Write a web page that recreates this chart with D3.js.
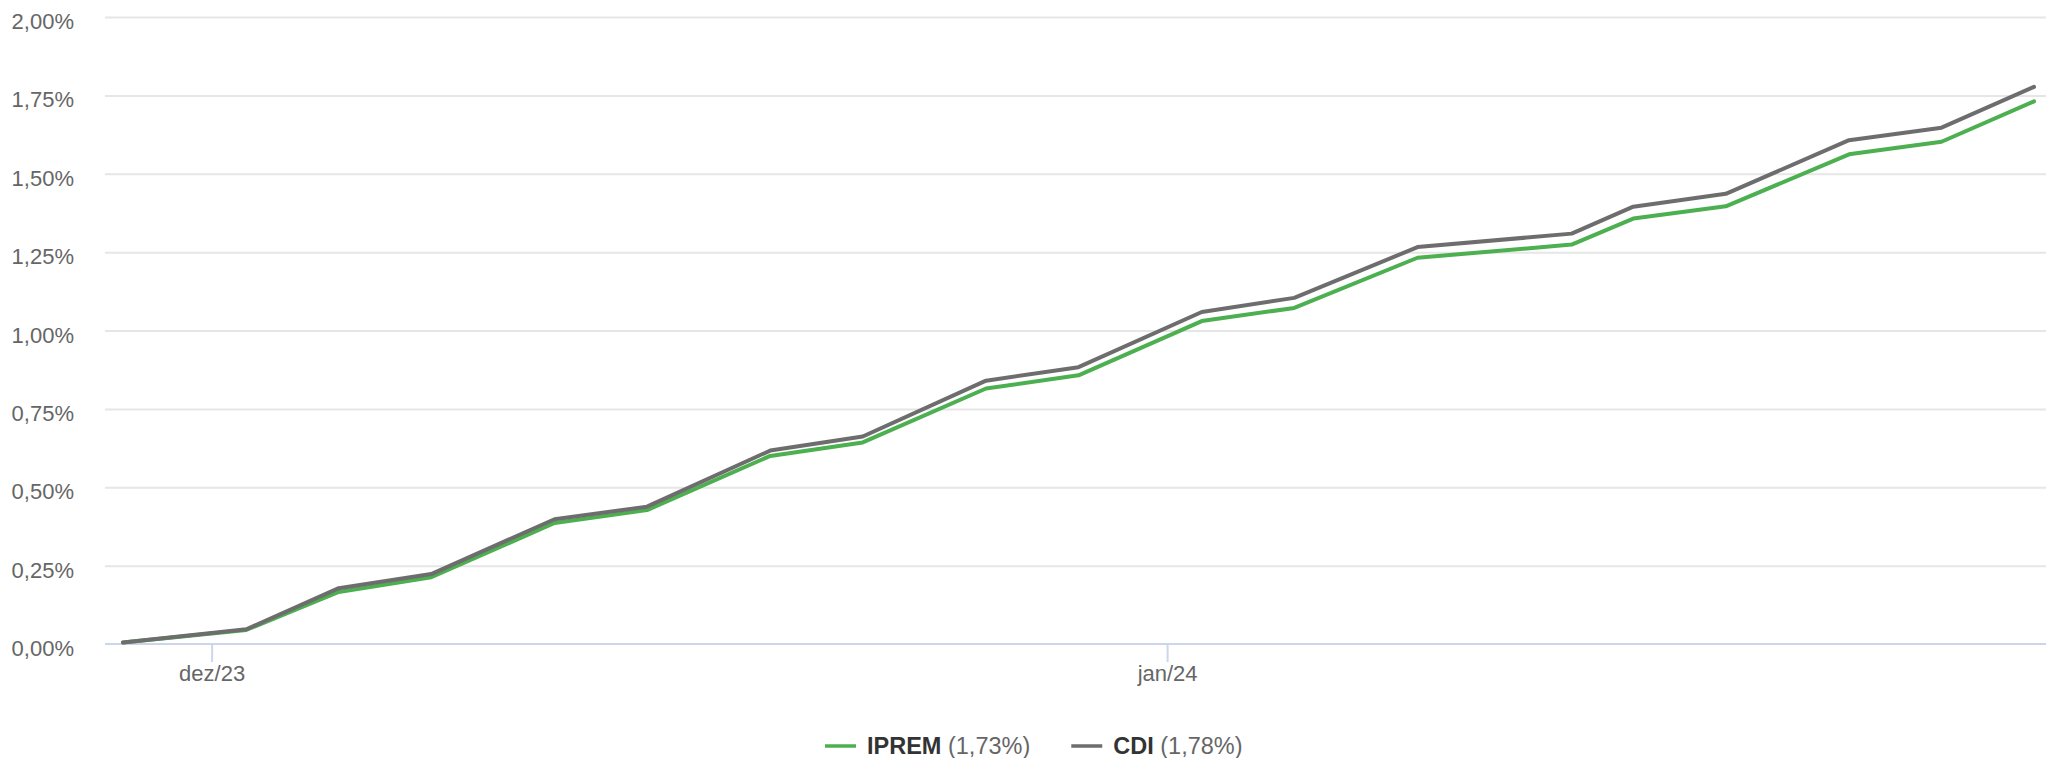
<!DOCTYPE html>
<html lang="pt-BR">
<head>
<meta charset="UTF-8">
<script src="https://cdn.jsdelivr.net/npm/d3@7"></script>
<style>
  body { margin: 0; background: #fff; }
  svg { display: block; font-family: "Liberation Sans", Arial, sans-serif; }
  .grid line { stroke: #e6e6e6; stroke-width: 2; }
  .grid .domain { display: none; }
  .ylab text { fill: #666; font-size: 22px; }
  .xaxis text { fill: #666; font-size: 22px; }
  .xaxis line, .xaxis path { stroke: #ccd6eb; stroke-width: 2; }
</style>
</head>
<body>
<div id="chart"></div>
<script>
// data points (cumulative return, %)
var dates = ["2023-11-28", "2023-12-02", "2023-12-05", "2023-12-08", "2023-12-12", "2023-12-15",
             "2023-12-19", "2023-12-22", "2023-12-26", "2023-12-29", "2024-01-02", "2024-01-05",
             "2024-01-09", "2024-01-14", "2024-01-16", "2024-01-19", "2024-01-23", "2024-01-26",
             "2024-01-29"];
var iprem = [0.005, 0.045, 0.166, 0.213, 0.386, 0.427, 0.600, 0.643, 0.815, 0.857,
             1.030, 1.072, 1.232, 1.274, 1.357, 1.396, 1.562, 1.602, 1.731];
var cdi   = [0.005, 0.047, 0.178, 0.223, 0.398, 0.438, 0.617, 0.662, 0.840, 0.883,
             1.059, 1.104, 1.266, 1.309, 1.395, 1.436, 1.607, 1.647, 1.777];
var yTicks = [0, 0.25, 0.5, 0.75, 1, 1.25, 1.5, 1.75, 2];
var xTicks = ["2023-12-01", "2024-01-01"];
var xTickLabels = ["dez/23", "jan/24"];
var seriesNames = ["IPREM", "CDI"];
var seriesColors = ["#4caf50", "#6d6d6d"];

var width = 2046, height = 758;
var plotLeft = 105, plotRight = 2046, plotTop = 17, plotBottom = 644;

// data dates are at 03:00 local relative to month ticks
var parse = d3.timeParse("%Y-%m-%d");
var shift = function(s) { return d3.timeHour.offset(parse(s), 3); };
var xs = dates.map(shift);

var svg = d3.select("#chart").append("svg")
  .attr("width", width)
  .attr("height", height);

var x = d3.scaleTime()
  .domain(d3.extent(xs))
  .range([123, 2034]);

var y = d3.scaleLinear()
  .domain([0, 2])
  .range([plotBottom, plotTop]);

// gridlines
svg.append("g")
  .attr("class", "grid")
  .attr("transform", "translate(" + plotLeft + ",0)")
  .call(d3.axisLeft(y).tickValues(yTicks.slice(1)).tickSize(-(plotRight - plotLeft)).tickFormat(""));

// y labels
var fmt = function(d) { return d.toFixed(2).replace(".", ",") + "%"; };
svg.append("g")
  .attr("class", "ylab")
  .selectAll("text")
  .data(yTicks).enter()
  .append("text")
    .attr("x", 74)
    .attr("y", function(d) { return y(d) + 12; })
    .attr("text-anchor", "end")
    .text(fmt);

// x axis
var xa = svg.append("g")
  .attr("class", "xaxis")
  .attr("transform", "translate(0," + plotBottom + ")")
  .call(d3.axisBottom(x)
    .tickValues(xTicks.map(parse))
    .tickSize(18)
    .tickSizeOuter(0)
    .tickFormat(function(d, i) { return xTickLabels[i]; }));
xa.select(".domain").attr("d", "M" + plotLeft + ",0H" + plotRight);
xa.selectAll("text").attr("dy", 0).attr("y", 37);

// lines
var series = [iprem, cdi];
var line = d3.line()
  .x(function(d, i) { return x(xs[i]); })
  .y(function(d) { return y(d); });

series.forEach(function(s, k) {
  svg.append("path")
    .datum(s)
    .attr("d", line)
    .attr("fill", "none")
    .attr("stroke", seriesColors[k])
    .attr("stroke-width", 4)
    .attr("stroke-linejoin", "round")
    .attr("stroke-linecap", "round");
});

// legend
var legend = svg.append("g").attr("font-size", "23.5px");
var lx = 825;
series.forEach(function(s, k) {
  var g = legend.append("g").attr("transform", "translate(" + lx + ",746)");
  g.append("line")
    .attr("x1", 0).attr("x2", 31)
    .attr("stroke", seriesColors[k])
    .attr("stroke-width", 3.5);
  var t = g.append("text").attr("x", 42).attr("y", 8);
  t.append("tspan").attr("font-weight", "bold").attr("fill", "#333").text(seriesNames[k]);
  t.append("tspan").attr("fill", "#666").text(" (" + s[s.length - 1].toFixed(2).replace(".", ",") + "%)");
  lx += 42 + t.node().getComputedTextLength() + 41;
});
</script>
</body>
</html>
